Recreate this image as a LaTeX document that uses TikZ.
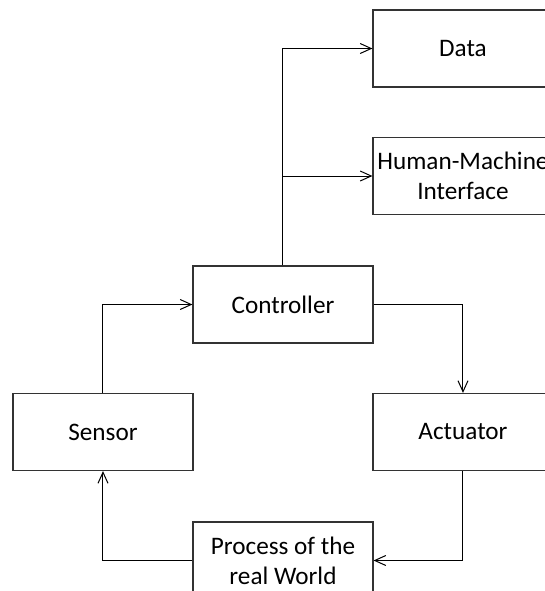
\documentclass[tikz,border=0pt]{standalone}
\usepackage{fontspec}
\setmainfont{Carlito}
\usepackage{tikz}
\usetikzlibrary{arrows.meta}

\begin{document}
\begin{tikzpicture}[x=0.5pt, y=0.5pt,
    bloque/.style={draw=black!80, line width=0.6pt, minimum width=90pt,
        minimum height=38.5pt, inner sep=1pt, align=center,
        font=\fontsize{12.6}{15}\selectfont},
    flecha/.style={-{Straight Barb[length=5.5pt, width=5pt]}, line width=0.5pt}]
    % Marco (la imagen recorta las cajas de la derecha y abajo)
    \clip (0,0) rectangle (545,591);
    % Bloques
    \node[bloque] (data) at (463,542.5) {Data};
    \node[bloque] (hmi) at (463,415) {Human-Machine\\Interface};
    \node[bloque] (ctrl) at (283,286.5) {Controller};
    \node[bloque] (sensor) at (103,159) {Sensor};
    \node[bloque] (act) at (463,159) {Actuator};
    \node[bloque] (proc) at (283,30.5) {Process of the\\real World};
    % Salidas del controlador
    \draw[flecha] (ctrl.north) |- (data.west);
    \draw[flecha] (ctrl.north) |- (hmi.west);
    % Lazo de control
    \draw[flecha] (sensor.north) |- (ctrl.west);
    \draw[flecha] (ctrl.east) -| (act.north);
    \draw[flecha] (act.south) |- (proc.east);
    \draw[flecha] (proc.west) -| (sensor.south);
\end{tikzpicture}
\end{document}
